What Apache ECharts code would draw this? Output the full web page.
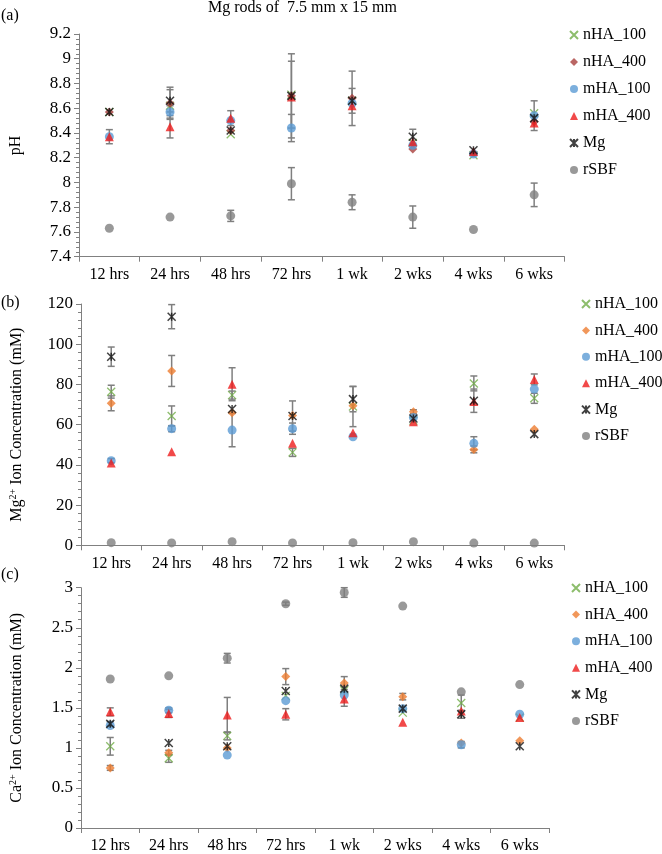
<!DOCTYPE html>
<html>
<head>
<meta charset="utf-8">
<script src="https://cdn.jsdelivr.net/npm/echarts@6/dist/echarts.min.js"></script>
<style>
html,body{margin:0;padding:0;background:#fff;}
#chart{width:662px;height:854px;}
</style>
</head>
<body>
<div id="chart"></div>
<script>
// ---------- data ----------
const categories = ['12 hrs','24 hrs','48 hrs','72 hrs','1 wk','2 wks','4 wks','6 wks'];
const seriesNames = ['nHA_100','nHA_400','mHA_100','mHA_400','Mg','rSBF'];

// (a) pH
const pH_nHA100 = [8.57, 8.62, 8.39, 8.71, 8.66, 8.32, 8.22, 8.56];
const pH_nHA400 = [8.57, 8.64, 8.42, 8.70, 8.68, 8.27, 8.24, 8.49];
const pH_mHA100 = [8.37, 8.57, 8.50, 8.44, 8.64, 8.30, 8.23, 8.54];
const pH_mHA400 = [8.37, 8.45, 8.52, 8.69, 8.62, 8.33, 8.25, 8.48];
const pH_Mg     = [8.57, 8.66, 8.42, 8.70, 8.66, 8.37, 8.26, 8.52];
const pH_rSBF   = [7.63, 7.72, 7.73, 7.99, 7.84, 7.72, 7.62, 7.90];
const pHErr_nHA100 = [0, 0, 0, 0.27, 0.10, 0, 0, 0];
const pHErr_nHA400 = [0, 0.13, 0, 0.34, 0.22, 0, 0, 0];
const pHErr_mHA100 = [0, 0.05, 0, 0.11, 0, 0, 0, 0.12];
const pHErr_mHA400 = [0.057, 0.09, 0.06, 0, 0, 0, 0, 0];
const pHErr_Mg     = [0, 0.09, 0, 0, 0, 0.06, 0, 0];
const pHErr_rSBF   = [0, 0, 0.045, 0.13, 0.06, 0.09, 0, 0.095];

// (b) Mg2+ ion concentration (mM)
const mg_nHA100 = [76.4, 64.3, 74.7, 46.2, 69.0, 62.0, 80.5, 73.1];
const mg_nHA400 = [70.6, 86.7, 65.9, 64.5, 69.4, 66.4, 47.7, 57.7];
const mg_mHA100 = [42.1, 58.0, 57.3, 58.0, 54.0, 63.5, 50.7, 77.7];
const mg_mHA400 = [40.9, 46.5, 80.1, 50.7, 56.0, 61.5, 71.5, 82.5];
const mg_Mg     = [93.8, 113.7, 67.8, 64.3, 72.7, 63.1, 71.9, 55.3];
const mg_rSBF   = [1.3, 1.2, 1.8, 1.2, 1.3, 1.8, 1.1, 1.1];
const mgErr_nHA100 = [3.2, 5.0, 2.0, 2.0, 10.0, 0, 3.7, 2.5];
const mgErr_nHA400 = [3.7, 7.7, 0, 0, 0, 1.0, 1.7, 0];
const mgErr_mHA100 = [1.0, 1.5, 8.3, 2.8, 0, 0, 3.3, 0];
const mgErr_mHA400 = [0, 0, 8.2, 0, 0, 0, 0, 2.7];
const mgErr_Mg     = [4.8, 6.0, 0, 7.5, 6.3, 0, 5.8, 0];
const mgErr_rSBF   = [0, 0, 0, 0, 0, 0, 0, 0];

// (c) Ca2+ ion concentration (mM)
const ca_nHA100 = [1.02, 0.87, 1.15, 1.65, 1.72, 1.44, 1.56, 1.38];
const ca_nHA400 = [0.75, 0.94, 1.00, 1.89, 1.81, 1.64, 1.06, 1.09];
const ca_mHA100 = [1.28, 1.47, 0.91, 1.59, 1.66, 1.49, 1.04, 1.42];
const ca_mHA400 = [1.45, 1.43, 1.41, 1.42, 1.61, 1.32, 1.46, 1.38];
const ca_Mg     = [1.30, 1.06, 1.02, 1.71, 1.74, 1.49, 1.42, 1.02];
const ca_rSBF   = [1.86, 1.90, 2.12, 2.80, 2.94, 2.77, 1.70, 1.79];
const caErr_nHA100 = [0.11, 0.05, 0.05, 0, 0, 0, 0.10, 0];
const caErr_nHA400 = [0.03, 0.03, 0, 0.10, 0.08, 0.04, 0, 0];
const caErr_mHA100 = [0, 0.03, 0, 0, 0, 0, 0.04, 0];
const caErr_mHA400 = [0.05, 0.05, 0.22, 0.07, 0.09, 0, 0, 0];
const caErr_Mg     = [0.03, 0, 0, 0, 0, 0, 0.05, 0];
const caErr_rSBF   = [0, 0, 0.06, 0.02, 0.06, 0, 0, 0];

// ---------- styling ----------
const FONT = 'Liberation Serif';
const AXIS_COLOR = '#808080';
const ERR_COLOR = '#7f7f7f';
const XPATH = 'path://M0,0L10,10M10,0L0,10';
const STARPATH = 'path://M0,0L10,10M10,0L0,10M5,0L5,10';

function markerStyles(nha400Color) {
  return [
    {symbol: XPATH, size: 8, itemStyle: {color: 'rgba(0,0,0,0)', borderColor: '#70AD47', borderWidth: 1.3}},
    {symbol: 'diamond', size: 9, itemStyle: {color: nha400Color}},
    {symbol: 'circle', size: 9, itemStyle: {color: '#5B9BD5'}},
    {symbol: 'triangle', size: 9, itemStyle: {color: '#EE1C1C'}},
    {symbol: STARPATH, size: 8, itemStyle: {color: 'rgba(0,0,0,0)', borderColor: '#111111', borderWidth: 1.5}},
    {symbol: 'circle', size: 9, itemStyle: {color: '#808080'}}
  ];
}

const panels = [
  {vals: [pH_nHA100, pH_nHA400, pH_mHA100, pH_mHA400, pH_Mg, pH_rSBF],
   errs: [pHErr_nHA100, pHErr_nHA400, pHErr_mHA100, pHErr_mHA400, pHErr_Mg, pHErr_rSBF],
   suffix: '', markers: markerStyles('#A9403D')},
  {vals: [mg_nHA100, mg_nHA400, mg_mHA100, mg_mHA400, mg_Mg, mg_rSBF],
   errs: [mgErr_nHA100, mgErr_nHA400, mgErr_mHA100, mgErr_mHA400, mgErr_Mg, mgErr_rSBF],
   suffix: ' ', markers: markerStyles('#ED7D31')},
  {vals: [ca_nHA100, ca_nHA400, ca_mHA100, ca_mHA400, ca_Mg, ca_rSBF],
   errs: [caErr_nHA100, caErr_nHA400, caErr_mHA100, caErr_mHA400, caErr_Mg, caErr_rSBF],
   suffix: '  ', markers: markerStyles('#ED7D31')}
];

const grids = [
  {left: 74.5, top: 34, width: 490, height: 222.7},
  {left: 74.5, top: 304, width: 490, height: 241.3},
  {left: 74.7, top: 587.7, width: 474.3, height: 241.3}
];

const yDefs = [
  {min: 7.4, max: 9.2, interval: 0.2, name: 'pH'},
  {min: 0, max: 120, interval: 20, name: '{n|Mg}{s|2+}{n| Ion Concentration (mM)}'},
  {min: 0, max: 3, interval: 0.5, name: '{n|Ca}{s|2+}{n| Ion Concentration (mM)}'}
];

const legends = [
  {left: 569, top: 27, itemGap: 11},
  {left: 581, top: 296, itemGap: 10.4},
  {left: 571, top: 580, itemGap: 10.6}
];

function fmt(v) { return String(parseFloat(v.toFixed(2))); }

const xAxes = grids.map((g, i) => ({
  type: 'category', gridIndex: i, data: categories, boundaryGap: true,
  axisLine: {lineStyle: {color: AXIS_COLOR, width: 1}},
  axisTick: {show: true, length: 5, lineStyle: {color: AXIS_COLOR}},
  axisLabel: {color: '#000', fontFamily: FONT, fontSize: 16, margin: 10, interval: 0},
  splitLine: {show: false}
}));

const yAxes = yDefs.map((d, i) => ({
  type: 'value', gridIndex: i, min: d.min, max: d.max, interval: d.interval,
  name: d.name, nameLocation: 'middle', nameRotate: 90, nameGap: 55,
  nameTextStyle: {color: '#000', fontFamily: FONT, fontSize: 16,
    rich: {n: {fontFamily: FONT, fontSize: 16, color: '#000', lineHeight: 18},
           s: {fontFamily: FONT, fontSize: 10, color: '#000', lineHeight: 18, verticalAlign: 'top', padding: [0, 0, 6, 0]}}},
  axisLine: {show: true, lineStyle: {color: AXIS_COLOR, width: 1}},
  axisTick: {show: true, length: 5, lineStyle: {color: AXIS_COLOR}},
  minorTick: {show: true, splitNumber: 5, length: 3, lineStyle: {color: AXIS_COLOR}},
  axisLabel: {color: '#000', fontFamily: FONT, fontSize: 17, margin: 8, formatter: fmt},
  splitLine: {show: false}
}));

function errRender(params, api) {
  const x = api.value(0);
  const lo = api.coord([x, api.value(1)]);
  const hi = api.coord([x, api.value(2)]);
  const w = 3.5;
  const st = {stroke: ERR_COLOR, lineWidth: 1.5};
  return {type: 'group', children: [
    {type: 'line', shape: {x1: lo[0], y1: lo[1], x2: hi[0], y2: hi[1]}, style: st},
    {type: 'line', shape: {x1: lo[0] - w, y1: lo[1], x2: lo[0] + w, y2: lo[1]}, style: st},
    {type: 'line', shape: {x1: hi[0] - w, y1: hi[1], x2: hi[0] + w, y2: hi[1]}, style: st}
  ]};
}

const series = [];
const legendComps = [];
panels.forEach((p, pi) => {
  const errData = [];
  p.vals.forEach((vals, si) => {
    vals.forEach((v, ci) => {
      const e = p.errs[si][ci];
      if (e > 0) errData.push([ci, v - e, v + e]);
    });
  });
  series.push({
    type: 'custom', name: 'err' + pi, xAxisIndex: pi, yAxisIndex: pi, z: 1,
    renderItem: errRender, data: errData, encode: {x: 0, y: [1, 2]}, silent: true
  });
  const names = [];
  p.vals.forEach((vals, si) => {
    const m = p.markers[si];
    const nm = seriesNames[si] + p.suffix;
    names.push(nm);
    series.push({
      type: 'scatter', name: nm, xAxisIndex: pi, yAxisIndex: pi, z: 2,
      symbol: m.symbol, symbolSize: m.size, itemStyle: m.itemStyle,
      data: vals.map((v, ci) => [ci, v]), silent: true
    });
  });
  legendComps.push({
    orient: 'vertical', left: legends[pi].left, top: legends[pi].top, padding: 0,
    itemGap: legends[pi].itemGap, itemWidth: 8, itemHeight: 8, selectedMode: false,
    textStyle: {fontFamily: FONT, fontSize: 16, color: '#000', lineHeight: 16},
    data: names.map(n => ({name: n, textStyle: {fontFamily: FONT, fontSize: 16, color: '#000'}}))
  });
});

const titleStyle = {fontFamily: FONT, fontSize: 16, fontWeight: 'normal', color: '#000'};
const chart = echarts.init(document.getElementById('chart'), null, {renderer: 'canvas'});
chart.setOption({
  animation: false,
  backgroundColor: '#fff',
  textStyle: {fontFamily: FONT},
  title: [
    {text: 'Mg rods of  7.5 mm x 15 mm', left: 208, top: 0, padding: 0, textStyle: titleStyle},
    {text: '(a)', left: 1, top: 8, padding: 0, textStyle: titleStyle},
    {text: '(b)', left: 1, top: 295, padding: 0, textStyle: titleStyle},
    {text: '(c)', left: 1, top: 567, padding: 0, textStyle: titleStyle}
  ],
  grid: grids,
  xAxis: xAxes,
  yAxis: yAxes,
  legend: legendComps,
  series: series
});
</script>
</body>
</html>
